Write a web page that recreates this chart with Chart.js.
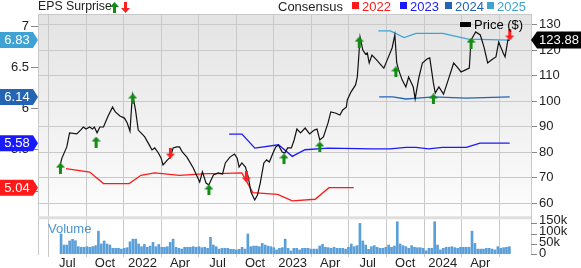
<!DOCTYPE html>
<html>
<head>
<meta charset="utf-8">
<script src="https://cdn.jsdelivr.net/npm/chart.js@4.4.1/dist/chart.umd.min.js"></script>
<style>
  html, body { margin: 0; padding: 0; background: #fff; }
  #wrap { width: 581px; height: 268px; }
</style>
</head>
<body>
<div id="wrap"><canvas id="chart" width="581" height="268"></canvas></div>
<script>
// x values are months counted from Jan 2021 (6 = Jul 2021)
const tickMonths = [6, 9, 12, 15, 18, 21, 24, 27, 30, 33, 36, 39];
const tickLabels = ['Jul', 'Oct', '2022', 'Apr', 'Jul', 'Oct', '2023', 'Apr', 'Jul', 'Oct', '2024', 'Apr'];
const priceTicks = [60, 70, 80, 90, 100, 110, 120, 130];
const epsTicks = [5, 5.5, 6, 6.5, 7];
const volTicks = [0, 50, 100, 150];

const priceMonths = [5.4, 5.56, 5.95, 6.17, 6.75, 7.05, 7.27, 7.49, 7.78, 8.0, 8.15, 8.37, 8.59, 8.88, 9.25, 9.61, 9.83, 10.2, 10.56, 10.78, 11.0, 11.15, 11.22, 11.44, 11.66, 11.88, 12.18, 12.55, 12.76, 12.98, 13.27, 13.49, 13.64, 14.0, 14.23, 14.45, 14.74, 14.96, 15.18, 15.55, 16.06, 16.57, 16.79, 17.08, 17.3, 17.67, 18.04, 18.4, 18.62, 18.99, 19.35, 19.57, 19.72, 19.94, 20.23, 20.45, 20.67, 20.97, 21.19, 21.41, 21.7, 21.92, 22.14, 22.43, 22.65, 22.87, 23.16, 23.38, 23.6, 23.9, 24.12, 24.34, 24.63, 25.0, 25.36, 25.73, 25.95, 26.17, 26.46, 26.83, 27.05, 27.41, 27.78, 28.0, 28.29, 28.37, 28.66, 29.03, 29.17, 29.25, 29.32, 29.39, 29.61, 29.83, 29.97, 30.12, 30.34, 30.71, 31.07, 31.29, 31.66, 31.95, 32.17, 32.32, 32.47, 32.76, 33.05, 33.27, 33.64, 33.79, 34.08, 34.37, 34.74, 34.96, 35.25, 35.4, 35.69, 36.06, 36.43, 36.87, 37.16, 37.46, 37.82, 38.12, 38.26, 38.63, 39.0, 39.29, 39.59, 39.88, 40.25, 40.47, 40.83, 40.98, 41.2, 41.35];
const priceValues = [74.5, 77.6, 82.0, 87.5, 87.1, 88.6, 89.8, 89.0, 89.8, 89.0, 89.8, 87.5, 89.8, 89.8, 94.1, 97.6, 95.7, 94.1, 93.3, 91.4, 88.2, 99.2, 102.4, 96.5, 88.6, 87.5, 85.9, 82.7, 80.8, 81.6, 79.6, 77.6, 74.9, 76.9, 78.0, 81.6, 82.0, 82.0, 80.0, 78.0, 73.7, 68.2, 72.2, 67.8, 67.1, 71.0, 71.8, 71.4, 75.7, 78.0, 79.2, 77.6, 74.1, 75.7, 74.1, 70.2, 64.3, 61.2, 63.1, 67.8, 75.7, 76.9, 76.1, 79.6, 82.0, 82.7, 80.0, 79.6, 81.6, 81.6, 84.7, 89.0, 87.5, 89.4, 87.1, 88.6, 89.0, 84.7, 85.9, 91.4, 95.7, 95.3, 94.5, 96.5, 97.6, 100.4, 103.5, 106.3, 109.4, 114.9, 120.0, 125.1, 120.0, 118.4, 118.8, 114.9, 118.0, 116.1, 114.1, 112.9, 117.3, 120.8, 125.9, 114.9, 112.2, 108.2, 105.5, 109.4, 105.5, 100.8, 109.0, 114.9, 116.5, 116.9, 107.1, 103.1, 105.5, 102.7, 108.2, 114.9, 113.3, 111.4, 112.2, 112.9, 123.9, 127.1, 125.9, 121.2, 114.9, 116.1, 117.3, 123.1, 118.8, 117.3, 123.9, 123.88];

const eps2022Months = [5.88, 7.78, 8.88, 10.93, 11.88, 12.98, 14.96, 17.16, 18.11, 19.94, 20.82, 22.8, 23.97, 25.8, 26.9, 28.88];
const eps2022Values = [5.27, 5.23, 5.09, 5.09, 5.19, 5.22, 5.19, 5.21, 5.21, 5.22, 4.98, 4.96, 4.88, 4.90, 5.04, 5.04];
const eps2023Months = [18.93, 19.95, 20.98, 22.87, 23.97, 24.99, 26.83, 30.34, 31.8, 33.05, 33.85, 34.87, 35.97, 37.88, 38.98, 41.35];
const eps2023Values = [5.69, 5.69, 5.52, 5.56, 5.42, 5.50, 5.52, 5.51, 5.51, 5.53, 5.53, 5.51, 5.53, 5.53, 5.58, 5.58];
const eps2024Months = [30.92, 32.0, 33.05, 34.0, 35.25, 37.88, 41.35];
const eps2024Values = [6.14, 6.14, 6.115, 6.127, 6.14, 6.127, 6.14];
const eps2025Months = [30.86, 31.81, 32.91, 33.86, 35.99, 38.04, 41.35];
const eps2025Values = [6.94, 6.94, 6.86, 6.91, 6.91, 6.84, 6.83];

const surpriseUpMonths = [5.44, 8.29, 11.22, 17.31, 23.31, 26.17, 29.32, 32.25, 35.25, 38.26];
const surpriseUpPrices = [73.7, 83.9, 100.8, 65.1, 77.3, 82.0, 123.1, 111.4, 100.8, 122.7];
const surpriseDownMonths = [14.23, 20.3, 41.35];
const surpriseDownPrices = [79.6, 70.2, 125.9];

// weekly volume, thousands of shares
const volFirstWeek = 5.49;
const weekLen = 0.2297;
const volumeK = [98, 44, 44, 64, 72, 65, 36, 33, 33, 36, 33, 36, 41, 112, 49, 64, 49, 44, 28, 28, 28, 24, 28, 31, 60, 73, 73, 49, 36, 47, 33, 39, 57, 36, 47, 33, 33, 36, 57, 73, 33, 28, 24, 33, 33, 33, 36, 33, 36, 31, 33, 28, 82, 44, 36, 24, 28, 28, 28, 23, 23, 20, 23, 33, 24, 98, 36, 39, 39, 36, 52, 44, 39, 36, 31, 20, 28, 31, 73, 28, 15, 28, 28, 20, 28, 28, 28, 24, 24, 24, 39, 47, 33, 31, 28, 33, 28, 28, 28, 24, 33, 49, 36, 41, 150, 64, 44, 23, 36, 41, 33, 28, 28, 33, 44, 33, 39, 158, 49, 41, 36, 28, 41, 33, 31, 31, 28, 16, 28, 28, 158, 44, 20, 28, 33, 33, 36, 31, 28, 33, 33, 33, 33, 112, 52, 24, 24, 24, 28, 28, 24, 20, 36, 28, 31, 33, 36];

const volumeSplitPrice = 54.2; // price level where the volume pane begins

const colors = {
  price: '#111111',
  e2022: '#ff1a1a',
  e2023: '#1a1aff',
  e2024: '#2464b4',
  e2025: '#3fa2d4',
  up: '#128c12',
  down: '#ff1f1f',
  volume: '#5b9fd8',
  grid: '#c9c9c9',
  text: '#222222'
};
const FONT = "'Liberation Sans', Arial, sans-serif";
Chart.defaults.font.family = FONT;
Chart.defaults.font.size = 13;
Chart.defaults.color = colors.text;

function zip(xs, ys) {
  return xs.map((x, i) => ({ x: x, y: ys[i] }));
}

function makeArrow(up, color) {
  const c = document.createElement('canvas');
  c.width = 9; c.height = 11;
  const g = c.getContext('2d');
  g.fillStyle = color;
  g.beginPath();
  if (up) {
    g.moveTo(4.5, 0); g.lineTo(9, 5); g.lineTo(6, 5); g.lineTo(6, 11);
    g.lineTo(3, 11); g.lineTo(3, 5); g.lineTo(0, 5);
  } else {
    g.moveTo(4.5, 11); g.lineTo(9, 6); g.lineTo(6, 6); g.lineTo(6, 0);
    g.lineTo(3, 0); g.lineTo(3, 6); g.lineTo(0, 6);
  }
  g.closePath();
  g.fill();
  return c;
}
const upArrow = makeArrow(true, colors.up);
const downArrow = makeArrow(false, colors.down);

function epsLine(label, xs, ys, color) {
  return {
    type: 'line', label: label, data: zip(xs, ys), yAxisID: 'yEps',
    borderColor: color, borderWidth: 1.3, pointRadius: 0, tension: 0, order: 3
  };
}

const volumeData = volumeK.map((v, i) => ({ x: volFirstWeek + i * weekLen, y: v }));

const decor = {
  id: 'decor',
  beforeDraw(chart) {
    const { ctx, chartArea: a, scales } = chart;
    const sepY = scales.yPrice.getPixelForValue(volumeSplitPrice);
    const g = ctx.createLinearGradient(0, a.top, 0, sepY);
    g.addColorStop(0, '#e3e3e3');
    g.addColorStop(1, '#fdfdfd');
    ctx.save();
    ctx.fillStyle = g;
    ctx.fillRect(a.left, a.top, a.right - a.left, sepY - a.top);
    ctx.restore();
  },
  beforeDatasetsDraw(chart) {
    const { ctx, chartArea: a, scales } = chart;
    const sepY = scales.yPrice.getPixelForValue(volumeSplitPrice);
    ctx.save();
    ctx.fillStyle = '#dedede';
    ctx.fillRect(a.left, sepY - 1.5, a.right - a.left, 3);
    ctx.fillStyle = '#4a93d2';
    ctx.font = '13px ' + FONT;
    ctx.textBaseline = 'middle';
    ctx.fillText('Volume', a.left + 10, sepY + 12);
    ctx.restore();
  },
  afterDraw(chart) {
    const { ctx, chartArea: a, scales } = chart;
    ctx.save();
    // top border
    ctx.strokeStyle = colors.grid;
    ctx.lineWidth = 1;
    ctx.beginPath();
    ctx.moveTo(a.left, a.top + 0.5);
    ctx.lineTo(a.right, a.top + 0.5);
    ctx.stroke();

    // volume axis
    ctx.font = '13px ' + FONT;
    ctx.textBaseline = 'middle';
    ctx.textAlign = 'left';
    ctx.strokeStyle = '#888';
    let prevY = Infinity;
    volTicks.forEach(v => {
      const y = scales.yVol.getPixelForValue(v);
      ctx.beginPath();
      ctx.moveTo(a.right, Math.round(y) + 0.5);
      ctx.lineTo(a.right + 6, Math.round(y) + 0.5);
      ctx.stroke();
      const ly = Math.min(y - 1, prevY - 11);
      prevY = ly;
      ctx.fillStyle = colors.text;
      ctx.fillText(v === 0 ? '0' : v + 'k', a.right + 8, ly);
    });

    // legends on top
    ctx.fillStyle = colors.text;
    ctx.textBaseline = 'middle';
    ctx.font = '12.3px ' + FONT;
    ctx.fillText('EPS Surprise', a.left, 7);
    ctx.drawImage(upArrow, 110, 2);
    ctx.drawImage(downArrow, 121, 2);
    ctx.font = '13px ' + FONT;
    ctx.fillText('Consensus', 278, 7);
    const legendItems = [
      ['2022', colors.e2022, 352],
      ['2023', colors.e2023, 400],
      ['2024', colors.e2024, 445],
      ['2025', colors.e2025, 487]
    ];
    legendItems.forEach(([t, c, x]) => {
      ctx.fillStyle = c;
      ctx.fillRect(x, 2, 7, 7);
      ctx.fillText(t, x + 10, 7);
    });
    ctx.fillStyle = '#000';
    ctx.fillRect(460, 22, 11, 5);
    ctx.fillText('Price ($)', 474, 25);

    // EPS tags on the left
    const tags = [
      [eps2025Values, colors.e2025],
      [eps2024Values, colors.e2024],
      [eps2023Values, colors.e2023],
      [eps2022Values, colors.e2022]
    ];
    tags.forEach(([vals, c]) => {
      const v = vals[vals.length - 1];
      const y = scales.yEps.getPixelForValue(v);
      ctx.fillStyle = c;
      ctx.beginPath();
      ctx.moveTo(0, y - 8); ctx.lineTo(33, y - 8); ctx.lineTo(38, y);
      ctx.lineTo(33, y + 8); ctx.lineTo(0, y + 8);
      ctx.closePath();
      ctx.fill();
      ctx.fillStyle = '#fff';
      ctx.textAlign = 'center';
      ctx.fillText(v.toFixed(2), 17, y + 0.5);
    });

    // last price tag on the right
    const lastPrice = priceValues[priceValues.length - 1];
    const py = scales.yPrice.getPixelForValue(lastPrice);
    ctx.fillStyle = '#000';
    ctx.beginPath();
    ctx.moveTo(a.right, py); ctx.lineTo(a.right + 6, py - 8.5);
    ctx.lineTo(581, py - 8.5); ctx.lineTo(581, py + 8.5); ctx.lineTo(a.right + 6, py + 8.5);
    ctx.closePath();
    ctx.fill();
    ctx.fillStyle = '#fff';
    ctx.textAlign = 'center';
    ctx.fillText(lastPrice.toFixed(2), 559, py + 0.5);
    ctx.restore();
  }
};

new Chart(document.getElementById('chart').getContext('2d'), {
  type: 'line',
  data: {
    datasets: [
      {
        type: 'scatter', label: 'Surprise up', data: zip(surpriseUpMonths, surpriseUpPrices),
        yAxisID: 'yPrice', pointStyle: upArrow, pointRadius: 5, clip: false, order: 0
      },
      {
        type: 'scatter', label: 'Surprise down', data: zip(surpriseDownMonths, surpriseDownPrices),
        yAxisID: 'yPrice', pointStyle: downArrow, pointRadius: 5, clip: false, order: 0
      },
      {
        type: 'line', label: 'Price ($)', data: zip(priceMonths, priceValues), yAxisID: 'yPrice',
        borderColor: colors.price, borderWidth: 1.2, pointRadius: 0, tension: 0, order: 1
      },
      epsLine('2025', eps2025Months, eps2025Values, colors.e2025),
      epsLine('2024', eps2024Months, eps2024Values, colors.e2024),
      epsLine('2023', eps2023Months, eps2023Values, colors.e2023),
      epsLine('2022', eps2022Months, eps2022Values, colors.e2022),
      {
        type: 'bar', label: 'Volume', data: volumeData, yAxisID: 'yVol',
        backgroundColor: colors.volume, barThickness: 2, order: 5
      }
    ]
  },
  options: {
    responsive: false,
    animation: false,
    devicePixelRatio: 1,
    layout: { padding: { top: 14, left: 0, right: 0, bottom: 0 } },
    plugins: { legend: { display: false }, tooltip: { enabled: false } },
    scales: {
      x: {
        type: 'linear', min: 5.29, max: 41.41,
        afterBuildTicks: s => { s.ticks = tickMonths.map(v => ({ value: v })); },
        afterFit: s => { s.height = 14; },
        ticks: {
          autoSkip: false, maxRotation: 0, padding: -1,
          callback: v => tickLabels[tickMonths.indexOf(v)]
        },
        grid: { color: colors.grid, tickLength: 3 },
        border: { display: false }
      },
      yEps: {
        type: 'linear', position: 'left', min: 4.2364, max: 7.1455,
        afterBuildTicks: s => { s.ticks = epsTicks.map(v => ({ value: v })); },
        afterFit: s => { s.width = 38; },
        ticks: { padding: 2, callback: v => String(v) },
        grid: { drawOnChartArea: false, tickLength: 7, tickColor: '#888' },
        border: { display: true, color: colors.grid }
      },
      yPrice: {
        type: 'linear', position: 'right', min: 40, max: 134.12,
        afterBuildTicks: s => { s.ticks = priceTicks.map(v => ({ value: v })); },
        afterFit: s => { s.width = 50; },
        ticks: { padding: 2 },
        grid: { color: colors.grid, tickLength: 6, tickColor: '#888' },
        border: { display: true, color: colors.grid }
      },
      yVol: {
        type: 'linear', display: false, min: 0, max: 1176
      }
    }
  },
  plugins: [decor]
});
</script>
</body>
</html>
